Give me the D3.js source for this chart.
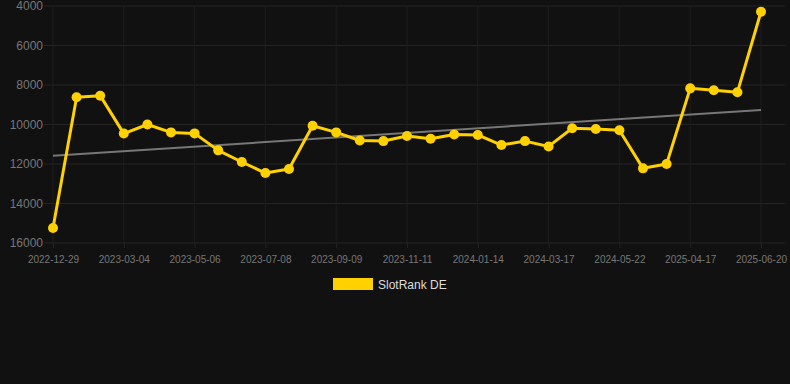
<!DOCTYPE html>
<html>
<head>
  <script src="https://d3js.org/d3.v7.min.js"></script>
  <style>
    body { margin: 0; background: #111111; }
    svg { display: block; }
  </style>
</head>
<body>
<svg width="790" height="384"></svg>
<script>
  const dates = ["2022-12-29", "2023-01-20", "2023-02-10", "2023-03-04", "2023-03-25", "2023-04-15",
    "2023-05-06", "2023-05-27", "2023-06-17", "2023-07-08", "2023-07-29", "2023-08-19",
    "2023-09-09", "2023-09-30", "2023-10-21", "2023-11-11", "2023-12-02", "2023-12-23",
    "2024-01-14", "2024-02-04", "2024-02-25", "2024-03-17", "2024-04-07", "2024-04-28",
    "2024-05-22", "2025-02-10", "2025-03-20", "2025-04-17", "2025-05-08", "2025-05-29",
    "2025-06-20"];
  const ranks = [15240, 8620, 8540, 10460, 10000, 10400, 10450, 11310, 11900, 12460, 12250,
    10060, 10400, 10810, 10840, 10580, 10720, 10510, 10530, 11040, 10840, 11110,
    10190, 10230, 10290, 12220, 12000, 8170, 8270, 8370, 4290];
  const yTicks = [4000, 6000, 8000, 10000, 12000, 14000, 16000];
  const seriesName = "SlotRank DE";

  const svg = d3.select("svg");
  const margin = { left: 44, right: 5, top: 6, bottom: 141 };
  const width = 790, height = 384;

  const x = d3.scalePoint()
    .domain(dates)
    .range([53, 761]);

  const y = d3.scaleLinear()
    .domain([4000, 16000])
    .range([margin.top, height - margin.bottom]);

  const labelDates = dates.filter((d, i) => i % 3 === 0);

  // grid
  svg.append("g")
    .selectAll("line.h")
    .data(yTicks)
    .enter().append("line")
    .attr("x1", margin.left).attr("x2", width - margin.right)
    .attr("y1", d => y(d)).attr("y2", d => y(d))
    .attr("stroke", "#242424").attr("stroke-width", 1);

  svg.append("g")
    .selectAll("line.v")
    .data(labelDates)
    .enter().append("line")
    .attr("x1", d => x(d)).attr("x2", d => x(d))
    .attr("y1", margin.top).attr("y2", y(16000))
    .attr("stroke", "#1e1e1e").attr("stroke-width", 1);

  // axes
  const yAxis = svg.append("g")
    .attr("transform", `translate(${margin.left},0)`)
    .call(d3.axisLeft(y).tickValues(yTicks).tickSize(0).tickPadding(1).tickFormat(d3.format("d")));
  yAxis.select(".domain").remove();
  yAxis.selectAll("text")
    .attr("fill", "#777").attr("font-size", "12px")
    .attr("font-family", "Helvetica, Arial, sans-serif");

  const xAxis = svg.append("g")
    .attr("transform", `translate(0,${y(16000)})`)
    .call(d3.axisBottom(x).tickValues(labelDates).tickSize(5).tickPadding(8));
  xAxis.select(".domain").remove();
  xAxis.selectAll("line").attr("stroke", "#242424");
  xAxis.selectAll("text")
    .attr("fill", "#777").attr("font-size", "10px")
    .attr("font-family", "Helvetica, Arial, sans-serif");

  // trend line (least squares on point index)
  const n = ranks.length;
  const idx = d3.range(n);
  const mx = d3.mean(idx), my = d3.mean(ranks);
  const slope = d3.sum(idx, i => (i - mx) * (ranks[i] - my)) / d3.sum(idx, i => (i - mx) * (i - mx));
  const icpt = my - slope * mx;
  svg.append("line")
    .attr("x1", x(dates[0])).attr("y1", y(icpt))
    .attr("x2", x(dates[n - 1])).attr("y2", y(icpt + slope * (n - 1)))
    .attr("stroke", "#777").attr("stroke-width", 2);

  // series
  const line = d3.line()
    .x((d, i) => x(dates[i]))
    .y(d => y(d));

  svg.append("path")
    .datum(ranks)
    .attr("fill", "none")
    .attr("stroke", "#FFD100")
    .attr("stroke-width", 3)
    .attr("stroke-linejoin", "round")
    .attr("d", line);

  svg.append("g")
    .selectAll("circle")
    .data(ranks)
    .enter().append("circle")
    .attr("cx", (d, i) => x(dates[i]))
    .attr("cy", d => y(d))
    .attr("r", 5)
    .attr("fill", "#FFD100");

  // legend
  const legend = svg.append("g").attr("transform", "translate(333,278)");
  legend.append("rect")
    .attr("width", 40).attr("height", 12)
    .attr("fill", "#FFD100");
  legend.append("text")
    .attr("x", 45).attr("y", 10.5)
    .attr("fill", "#dddddd").attr("font-size", "12px")
    .attr("font-family", "Helvetica, Arial, sans-serif")
    .text(seriesName);
</script>
</body>
</html>
